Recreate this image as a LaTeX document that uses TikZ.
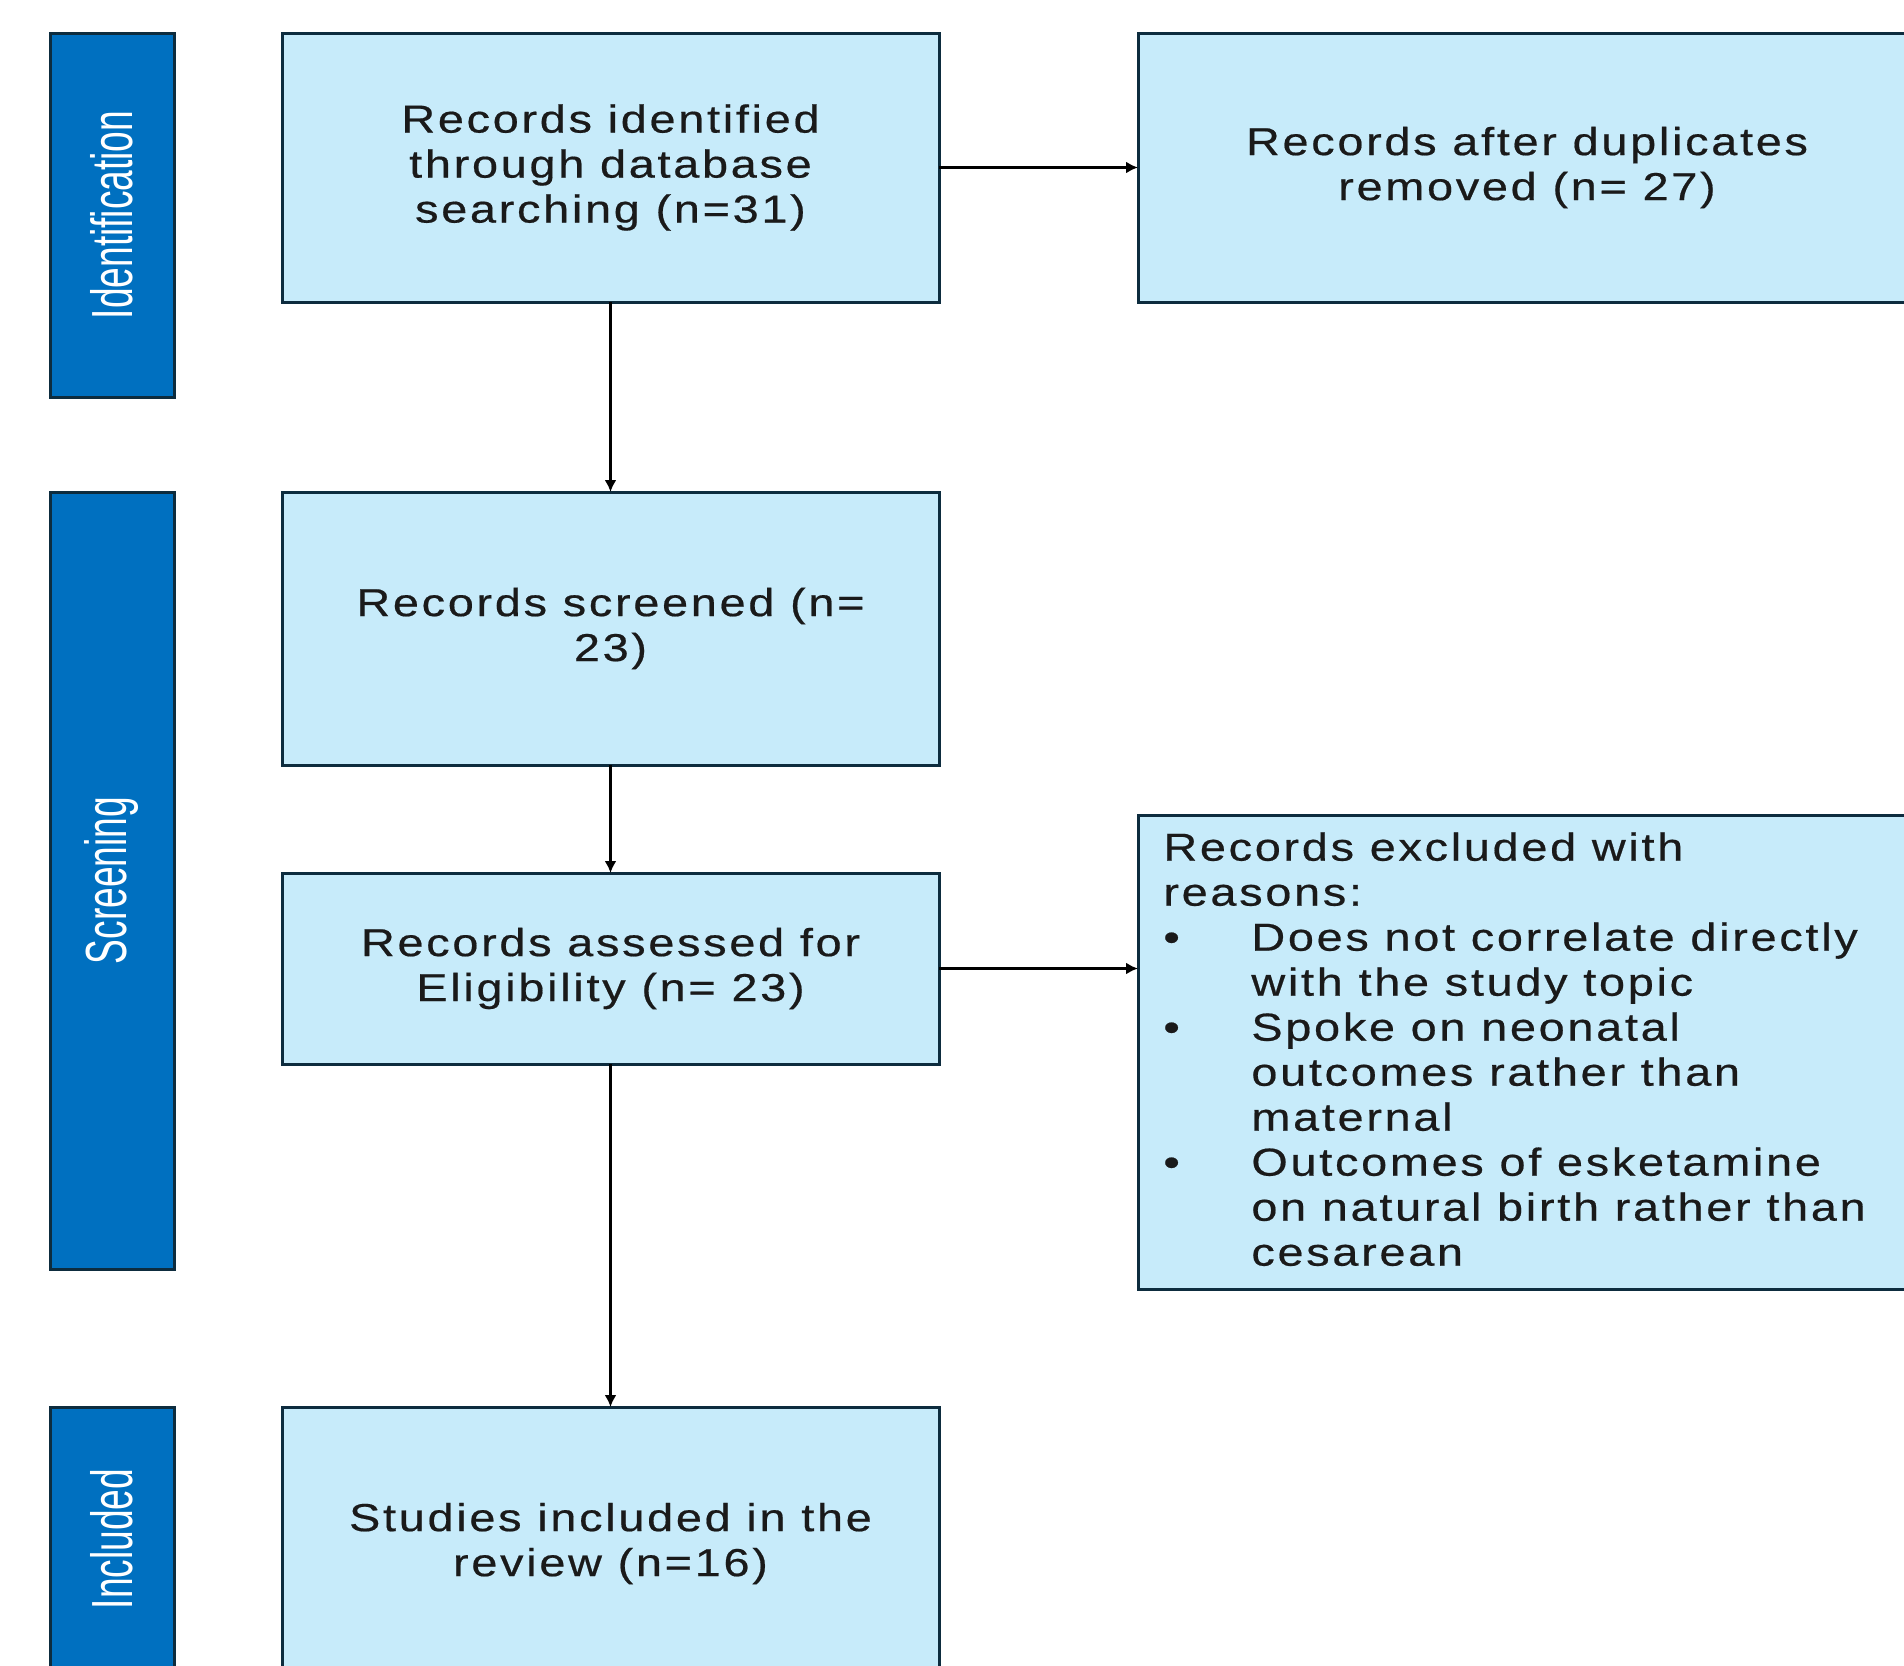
\documentclass[tikz,border=0pt]{standalone}
\usepackage{fontspec}
\setmainfont{Liberation Sans}
\newfontfamily\boxfont{Liberation Sans}[FakeStretch=1.2,LetterSpace=7,FakeBold=0.5]
\newfontfamily\barfont{Liberation Sans}[FakeStretch=0.64]
\usetikzlibrary{arrows.meta}
\definecolor{boxfill}{HTML}{C7EBFA}
\definecolor{boxline}{HTML}{0D2C3E}
\definecolor{barfill}{HTML}{0070C0}
\definecolor{txt}{HTML}{1A1A1A}
\tikzset{
 stagebox/.style={draw=boxline, line width=1.5pt, fill=boxfill, rectangle, inner sep=0pt, outer sep=0pt, text=txt, align=center, font=\boxfont\fontsize{19.5pt}{22.5pt}\selectfont},
 phasebar/.style={draw=boxline, line width=1.5pt, fill=barfill, rectangle, inner sep=0pt, outer sep=0pt},
 phasetext/.style={text=white, rotate=90, font=\barfont\fontsize{29pt}{30pt}\selectfont, inner sep=0pt},
 bodytext/.style={text=txt, align=left, inner sep=0pt, font=\boxfont\fontsize{19.5pt}{22.5pt}\selectfont},
 flow/.style={draw=black, line width=1.3pt, -{Latex[length=6pt,width=6pt]}},
}
\newcommand{\bul}{\makebox[44pt][l]{•}}
\newcommand{\ind}{\hspace*{44pt}}
\begin{document}
\begin{tikzpicture}[x=0.5pt,y=-0.5pt]
\useasboundingbox (0,0) rectangle (1904,1665);
% phase bars
\node[phasebar, minimum width=62pt, minimum height=182pt] (idbar) at (112,215) {};
\node[phasebar, minimum width=62pt, minimum height=388.5pt] (scrbar) at (112,880.5) {};
\node[phasebar, minimum width=62pt, minimum height=136.5pt] (incbar) at (112,1543.5) {};
\node[phasetext] (idtxt) at (idbar.center) {Identification};
\node[phasetext] (scrtxt) at (scrbar.center) {Screening};
\node[phasetext] (inctxt) at (112,1539) {Included};
% boxes
\node[stagebox, minimum width=328.5pt, minimum height=134.5pt] (ident) at (610.5,167.5) {Records identified\\through database\\searching (n=31)};
\node[stagebox, minimum width=389pt, minimum height=134.5pt] (dup) at (1527,167.5) {Records after duplicates\\removed (n= 27)};
\node[stagebox, minimum width=328.5pt, minimum height=136.5pt] (scr) at (610.5,628.5) {Records screened (n=\\23)};
\node[stagebox, minimum width=328.5pt, minimum height=95.5pt] (elig) at (610.5,968.5) {Records assessed for\\Eligibility (n= 23)};
\node[stagebox, minimum width=389pt, minimum height=237pt] (excl) at (1527,1052) {};
\node[stagebox, minimum width=328.5pt, minimum height=136.5pt] (inc) at (610.5,1543.5) {Studies included in the\\review (n=16)};
\node[bodytext, anchor=north west] (excltxt) at (1163,832) {Records excluded with\\reasons:\\\bul Does not correlate directly\\\ind with the study topic\\\bul Spoke on neonatal\\\ind outcomes rather than\\\ind maternal\\\bul Outcomes of esketamine\\\ind on natural birth rather than\\\ind cesarean};
% connectors
\draw[flow] (ident.east) -- (dup.west);
\draw[flow] (ident.south) -- (scr.north);
\draw[flow] (scr.south) -- (elig.north);
\draw[flow] (elig.east) -- (elig.east -| excl.west);
\draw[flow] (elig.south) -- (inc.north);
\end{tikzpicture}
\end{document}
